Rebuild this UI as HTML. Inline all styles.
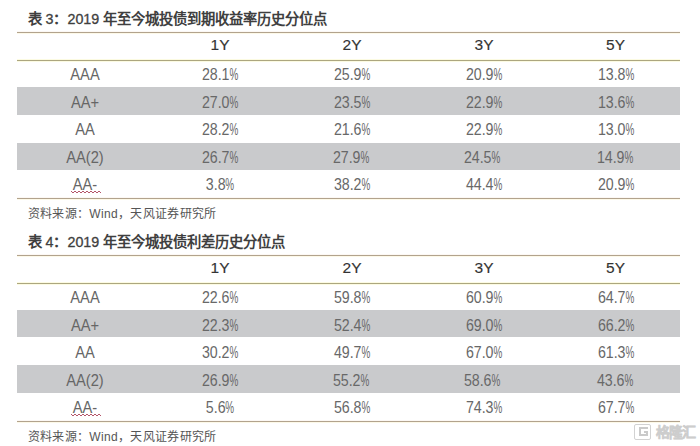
<!DOCTYPE html>
<html lang="zh-CN"><head><meta charset="utf-8"><title>table</title>
<style>
*{margin:0;padding:0;box-sizing:border-box}
html,body{width:700px;height:446px;background:#fff;overflow:hidden}
body{position:relative;font-family:"Liberation Sans",sans-serif;color:#686868}
.ln{position:absolute;left:17px;width:663px;height:1px;background:#b2a38d;box-shadow:0 1px 0 #fdf9e8,0 -1px 0 #fcf8f4}
.ln2{background:#aca67f;box-shadow:0 1px 0 #fcfbe2,0 -1px 0 #fcfbe2}
.g{position:absolute;left:17px;width:663px;background:#c9cacc}
.ttl{position:absolute;left:27.5px;font-size:14.3px;color:#3f3f3f;white-space:nowrap;line-height:1}
.ttl b{font-weight:bold}
.ttl i{font-style:normal;-webkit-text-stroke:0.3px #3f3f3f}
.src{position:absolute;left:27.5px;font-size:12px;letter-spacing:0.35px;color:#555;white-space:nowrap;line-height:1}
.c{position:absolute;width:120px;margin-left:-60px;text-align:center;font-size:16.5px;line-height:1;white-space:nowrap}
.l{transform:scaleX(.89);color:#666}
.v{transform:scaleX(.86)}
.p{display:inline-block;transform:scaleX(.7);transform-origin:0 0;width:10px;text-align:left}
.wm{position:absolute;left:634px;top:424px;height:16px;white-space:nowrap}
.wg{position:absolute;left:0;top:0;width:17px;height:16px;border:1.5px solid #d2d2d2;border-radius:2px}
.wg2{position:absolute;left:3.5px;top:2px;width:9px;height:8.5px;border:2px solid #cacaca;border-right:none}
.wg3{position:absolute;left:9px;top:6px;width:4px;height:5px;border-top:2px solid #cacaca;border-right:2px solid #cacaca}
.wm span{position:absolute;left:21.5px;top:0px;font-size:14px;line-height:16px;font-weight:bold;color:#e4e4e4;-webkit-text-stroke:0.5px #cdcdcd;letter-spacing:-0.6px}
.h{color:#333;font-size:15.5px;-webkit-text-stroke:0.15px #333}
</style></head><body>
<div class="ttl" style="top:11.5px"><b>表</b> <i>3</i><b>：</b><i>2019</i> <b>年至今城投债到期收益率历史分位点</b></div>
<div class="ln" style="top:32px"></div>
<div class="ln ln2" style="top:60px"></div>
<div class="g" style="top:87px;height:28px"></div>
<div class="g" style="top:143px;height:27px"></div>
<div class="ln" style="top:198px"></div>
<div class="c h" style="left:220px;top:37.0px">1Y</div>
<div class="c h" style="left:352px;top:37.0px">2Y</div>
<div class="c h" style="left:484px;top:37.0px">3Y</div>
<div class="c h" style="left:615.5px;top:37.0px">5Y</div>
<div class="c l" style="left:85px;top:65.5px">AAA</div>
<div class="c v" style="left:220px;top:65.5px">28.1<span class="p">%</span></div>
<div class="c v" style="left:352px;top:65.5px">25.9<span class="p">%</span></div>
<div class="c v" style="left:484px;top:65.5px">20.9<span class="p">%</span></div>
<div class="c v" style="left:615.5px;top:65.5px">13.8<span class="p">%</span></div>
<div class="c l" style="left:85px;top:93.6px">AA+</div>
<div class="c v" style="left:220px;top:93.6px">27.0<span class="p">%</span></div>
<div class="c v" style="left:352px;top:93.6px">23.5<span class="p">%</span></div>
<div class="c v" style="left:484px;top:93.6px">22.9<span class="p">%</span></div>
<div class="c v" style="left:615.5px;top:93.6px">13.6<span class="p">%</span></div>
<div class="c l" style="left:85px;top:120.8px">AA</div>
<div class="c v" style="left:220px;top:120.8px">28.2<span class="p">%</span></div>
<div class="c v" style="left:352px;top:120.8px">21.6<span class="p">%</span></div>
<div class="c v" style="left:484px;top:120.8px">22.9<span class="p">%</span></div>
<div class="c v" style="left:615.5px;top:120.8px">13.0<span class="p">%</span></div>
<div class="c l" style="left:85px;top:148.6px">AA(2)</div>
<div class="c v" style="left:219.5px;top:148.6px">26.7<span class="p">%</span></div>
<div class="c v" style="left:350.5px;top:148.6px">27.9<span class="p">%</span></div>
<div class="c v" style="left:481.5px;top:148.6px">24.5<span class="p">%</span></div>
<div class="c v" style="left:615.0px;top:148.6px">14.9<span class="p">%</span></div>
<div class="c l" style="left:85px;top:175.8px">AA-</div>
<div class="c v" style="left:220px;top:175.8px">3.8<span class="p">%</span></div>
<div class="c v" style="left:352px;top:175.8px">38.2<span class="p">%</span></div>
<div class="c v" style="left:484px;top:175.8px">44.4<span class="p">%</span></div>
<div class="c v" style="left:615.5px;top:175.8px">20.9<span class="p">%</span></div>
<svg style="position:absolute;left:0;top:0" width="700" height="446"><polyline points="71,191 73,193 75,191 77,193 79,191 81,193 83,191 85,193 87,191 89,193 91,191 93,193 95,191 97,193 99,191 101,193" fill="none" stroke="#b4556a" stroke-width="1"/></svg>
<div class="src" style="top:208px">资料来源：Wind，天风证券研究所</div>
<div class="ttl" style="top:234.5px"><b>表</b> <i>4</i><b>：</b><i>2019</i> <b>年至今城投债利差历史分位点</b></div>
<div class="ln" style="top:255px"></div>
<div class="ln ln2" style="top:283px"></div>
<div class="g" style="top:310px;height:27px"></div>
<div class="g" style="top:365px;height:28px"></div>
<div class="ln" style="top:421px"></div>
<div class="c h" style="left:220px;top:260.0px">1Y</div>
<div class="c h" style="left:352px;top:260.0px">2Y</div>
<div class="c h" style="left:484px;top:260.0px">3Y</div>
<div class="c h" style="left:615.5px;top:260.0px">5Y</div>
<div class="c l" style="left:85px;top:288.5px">AAA</div>
<div class="c v" style="left:220px;top:288.5px">22.6<span class="p">%</span></div>
<div class="c v" style="left:352px;top:288.5px">59.8<span class="p">%</span></div>
<div class="c v" style="left:484px;top:288.5px">60.9<span class="p">%</span></div>
<div class="c v" style="left:615.5px;top:288.5px">64.7<span class="p">%</span></div>
<div class="c l" style="left:85px;top:316.6px">AA+</div>
<div class="c v" style="left:220px;top:316.6px">22.3<span class="p">%</span></div>
<div class="c v" style="left:352px;top:316.6px">52.4<span class="p">%</span></div>
<div class="c v" style="left:484px;top:316.6px">69.0<span class="p">%</span></div>
<div class="c v" style="left:615.5px;top:316.6px">66.2<span class="p">%</span></div>
<div class="c l" style="left:85px;top:343.8px">AA</div>
<div class="c v" style="left:220px;top:343.8px">30.2<span class="p">%</span></div>
<div class="c v" style="left:352px;top:343.8px">49.7<span class="p">%</span></div>
<div class="c v" style="left:484px;top:343.8px">67.0<span class="p">%</span></div>
<div class="c v" style="left:615.5px;top:343.8px">61.3<span class="p">%</span></div>
<div class="c l" style="left:85px;top:371.6px">AA(2)</div>
<div class="c v" style="left:219.5px;top:371.6px">26.9<span class="p">%</span></div>
<div class="c v" style="left:350.5px;top:371.6px">55.2<span class="p">%</span></div>
<div class="c v" style="left:481.5px;top:371.6px">58.6<span class="p">%</span></div>
<div class="c v" style="left:615.0px;top:371.6px">43.6<span class="p">%</span></div>
<div class="c l" style="left:85px;top:398.8px">AA-</div>
<div class="c v" style="left:220px;top:398.8px">5.6<span class="p">%</span></div>
<div class="c v" style="left:352px;top:398.8px">56.8<span class="p">%</span></div>
<div class="c v" style="left:484px;top:398.8px">74.3<span class="p">%</span></div>
<div class="c v" style="left:615.5px;top:398.8px">67.7<span class="p">%</span></div>
<svg style="position:absolute;left:0;top:0" width="700" height="446"><polyline points="71,414 73,416 75,414 77,416 79,414 81,416 83,414 85,416 87,414 89,416 91,414 93,416 95,414 97,416 99,414 101,416" fill="none" stroke="#b4556a" stroke-width="1"/></svg>
<div class="src" style="top:431px">资料来源：Wind，天风证券研究所</div>
<div class="wm"><div class="wg"><div class="wg2"></div><div class="wg3"></div></div><span>格隆汇</span></div>
</body></html>
